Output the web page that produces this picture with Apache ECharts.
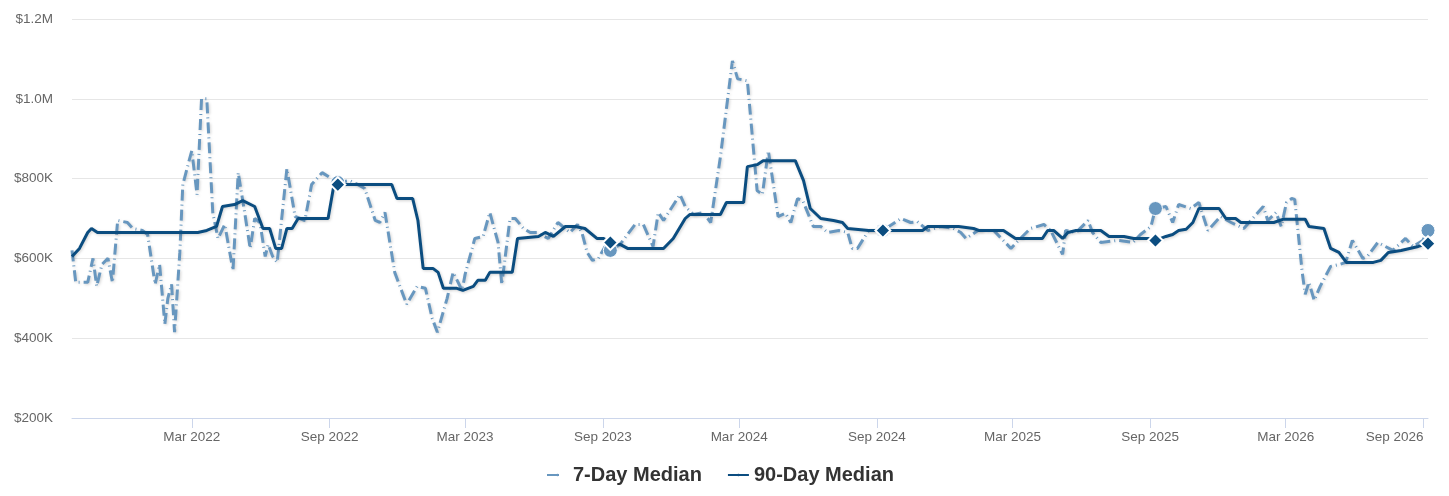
<!DOCTYPE html>
<html>
<head>
<meta charset="utf-8">
<title>Median Price</title>
<script src="https://cdn.jsdelivr.net/npm/echarts@6/dist/echarts.min.js"></script>
<style>
  html, body { margin: 0; padding: 0; background: #fff; }
  #chart { width: 1449px; height: 496px; }
</style>
</head>
<body>
<div id="chart"></div>
<script>
// 7-day median, values in $K
const sevenDayDates = [
  '2021-09-22', '2021-09-27', '2021-10-13', '2021-10-20', '2021-10-25', '2021-11-01', '2021-11-09', '2021-11-15',
  '2021-11-22', '2021-12-05', '2021-12-12', '2021-12-25', '2022-01-01', '2022-01-11', '2022-01-17', '2022-01-24',
  '2022-01-28', '2022-02-02', '2022-02-06', '2022-02-13', '2022-02-17', '2022-02-24', '2022-03-01', '2022-03-08',
  '2022-03-14', '2022-03-21', '2022-03-29', '2022-04-05', '2022-04-14', '2022-04-25', '2022-05-02', '2022-05-11',
  '2022-05-18', '2022-05-24', '2022-05-31', '2022-06-07', '2022-06-11', '2022-06-17', '2022-06-23', '2022-07-06',
  '2022-07-17', '2022-07-30', '2022-08-08', '2022-08-22', '2022-09-12', '2022-09-28', '2022-10-09', '2022-10-18',
  '2022-11-01', '2022-11-07', '2022-11-14', '2022-11-27', '2022-12-13', '2022-12-27', '2023-01-07', '2023-01-16',
  '2023-01-23', '2023-02-05', '2023-02-13', '2023-02-25', '2023-03-01', '2023-03-14', '2023-03-25', '2023-04-03',
  '2023-04-14', '2023-04-19', '2023-04-30', '2023-05-07', '2023-05-18', '2023-05-27', '2023-06-05', '2023-06-20',
  '2023-07-03', '2023-07-19', '2023-07-29', '2023-08-04', '2023-08-11', '2023-08-18', '2023-08-26', '2023-09-04',
  '2023-09-11', '2023-09-24', '2023-10-14', '2023-10-25', '2023-11-07', '2023-11-14', '2023-11-21', '2023-12-13',
  '2023-12-20', '2023-12-31', '2024-01-13', '2024-01-23', '2024-02-05', '2024-02-21', '2024-02-28', '2024-03-12',
  '2024-03-25', '2024-04-01', '2024-04-09', '2024-04-22', '2024-05-02', '2024-05-09', '2024-05-18', '2024-05-25',
  '2024-06-08', '2024-06-18', '2024-06-27', '2024-07-12', '2024-07-24', '2024-07-30', '2024-08-06', '2024-08-21',
  '2024-09-09', '2024-10-03', '2024-10-16', '2024-10-25', '2024-11-08', '2024-11-25', '2024-12-12', '2024-12-22',
  '2024-12-29', '2025-01-14', '2025-02-04', '2025-02-27', '2025-03-09', '2025-03-25', '2025-04-12', '2025-04-21',
  '2025-05-07', '2025-05-11', '2025-05-25', '2025-06-10', '2025-06-16', '2025-06-27', '2025-07-20', '2025-08-09',
  '2025-08-19', '2025-09-02', '2025-09-08', '2025-09-22', '2025-10-01', '2025-10-09', '2025-10-25', '2025-11-05',
  '2025-11-17', '2025-12-04', '2025-12-18', '2026-01-04', '2026-01-11', '2026-01-30', '2026-02-05', '2026-02-16',
  '2026-02-23', '2026-03-02', '2026-03-09', '2026-03-13', '2026-03-23', '2026-03-27', '2026-04-01', '2026-04-08',
  '2026-04-16', '2026-04-30', '2026-05-12', '2026-05-20', '2026-05-29', '2026-06-12', '2026-06-18', '2026-07-02',
  '2026-07-12', '2026-07-22', '2026-08-08', '2026-08-18', '2026-08-31', '2026-09-07'
]
const sevenDayValues = [
  620, 540, 540, 600, 530, 585, 600, 540,
  695, 690, 675, 670, 660, 535, 585, 435,
  500, 535, 415, 615, 785, 835, 870, 760,
  1000, 1000, 715, 650, 685, 570, 815, 710,
  625, 700, 690, 605, 635, 605, 590, 825,
  705, 695, 785, 815, 790, 795, 785, 775,
  695, 690, 715, 565, 485, 530, 525, 450,
  415, 500, 565, 520, 560, 650, 655, 715,
  640, 535, 700, 700, 675, 665, 665, 650,
  690, 665, 685, 665, 615, 595, 600, 630,
  620, 635, 685, 685, 630, 715, 695, 760,
  730, 710, 715, 690, 855, 1095, 1050, 1045,
  770, 760, 870, 705, 713, 690, 750, 745,
  680, 680, 665, 670, 665, 625, 625, 670,
  670, 700, 690, 692, 670, 680, 675, 665,
  650, 670, 670, 625, 645, 675, 685, 670,
  610, 670, 665, 695, 665, 640, 645, 640,
  660, 680, 725, 730, 690, 735, 725, 740,
  670, 705, 690, 675, 690, 730, 695, 715,
  680, 740, 750, 748, 565, 510, 540, 495,
  530, 580, 585, 590, 645, 600, 605, 640,
  630, 620, 650, 630, 645, 670
]

// 90-day median, values in $K
const ninetyDayDates = [
  '2021-09-22', '2021-10-02', '2021-10-13', '2021-10-18', '2021-10-26', '2022-03-09', '2022-03-21', '2022-04-03',
  '2022-04-11', '2022-04-27', '2022-05-08', '2022-05-24', '2022-06-04', '2022-06-13', '2022-06-21', '2022-06-29',
  '2022-07-06', '2022-07-13', '2022-07-21', '2022-08-30', '2022-09-06', '2022-09-12', '2022-11-23', '2022-11-30',
  '2022-12-21', '2022-12-28', '2023-01-04', '2023-01-17', '2023-01-24', '2023-01-31', '2023-02-18', '2023-02-26',
  '2023-03-12', '2023-03-18', '2023-03-28', '2023-04-03', '2023-05-03', '2023-05-10', '2023-06-07', '2023-06-16',
  '2023-06-27', '2023-07-13', '2023-07-26', '2023-08-08', '2023-08-24', '2023-09-02', '2023-09-11', '2023-09-24',
  '2023-10-04', '2023-11-21', '2023-12-04', '2023-12-20', '2023-12-26', '2024-02-05', '2024-02-13', '2024-03-07',
  '2024-03-12', '2024-03-25', '2024-04-02', '2024-05-15', '2024-05-26', '2024-06-04', '2024-06-18', '2024-07-05',
  '2024-07-17', '2024-07-24', '2024-08-21', '2024-09-09', '2024-11-01', '2024-11-08', '2024-12-19', '2025-01-08',
  '2025-01-15', '2025-02-17', '2025-03-05', '2025-04-10', '2025-04-17', '2025-04-25', '2025-05-07', '2025-05-14',
  '2025-05-25', '2025-06-27', '2025-07-08', '2025-07-28', '2025-08-10', '2025-08-29', '2025-09-08', '2025-09-22',
  '2025-10-01', '2025-10-09', '2025-10-19', '2025-10-28', '2025-11-05', '2025-12-02', '2025-12-11', '2025-12-24',
  '2025-12-31', '2026-02-13', '2026-02-25', '2026-03-27', '2026-04-01', '2026-04-21', '2026-04-30', '2026-05-11',
  '2026-05-21', '2026-06-26', '2026-07-06', '2026-07-16', '2026-08-02', '2026-08-25', '2026-09-07'
]
const ninetyDayValues = [
  605, 625, 665, 675, 665, 665, 670, 680,
  730, 735, 745, 730, 675, 675, 625, 625,
  675, 675, 700, 700, 775, 785, 785, 750,
  750, 695, 575, 575, 565, 525, 525, 520,
  530, 545, 545, 565, 565, 650, 655, 665,
  655, 680, 680, 675, 650, 650, 640, 635,
  625, 625, 650, 700, 710, 710, 740, 740,
  830, 835, 845, 845, 795, 725, 700, 695,
  690, 675, 670, 670, 670, 680, 680, 675,
  670, 670, 650, 650, 670, 670, 650, 665,
  670, 670, 655, 655, 650, 650, 645, 655,
  660, 670, 673, 690, 725, 725, 700, 700,
  690, 690, 698, 698, 680, 675, 625, 615,
  590, 590, 595, 615, 620, 630, 637
]

// year-over-year highlight points
const markerDates = ['2022-09-12', '2023-09-11', '2024-09-09', '2025-09-08', '2026-09-07']

const tickDates = [
  '2022-03-01', '2022-09-01', '2023-03-01', '2023-09-01', '2024-03-01',
  '2024-09-01', '2025-03-01', '2025-09-01', '2026-03-01', '2026-09-01'
]

const MONTHS = ['Jan', 'Feb', 'Mar', 'Apr', 'May', 'Jun', 'Jul', 'Aug', 'Sep', 'Oct', 'Nov', 'Dec']
const FONT = "'Liberation Sans', Arial, sans-serif"
const LIGHT = '#6897bf'
const DARK = '#0b4d80'

const tickValues = tickDates.map(d => Date.parse(d))

const buildData = (dates, values, marker) =>
  dates.map((d, i) => {
    const point = [Date.parse(d), values[i]]
    if (markerDates.indexOf(d) > -1) {
      return { value: point, symbol: marker.symbol, symbolSize: marker.size, itemStyle: marker.style }
    }
    return point
  })

const lineShadow = {
  shadowColor: 'rgba(0, 0, 0, 0.18)',
  shadowBlur: 3,
  shadowOffsetX: 1,
  shadowOffsetY: 1,
}

const option = {
  animation: false,
  textStyle: { fontFamily: FONT },
  grid: { left: 72, right: 21, top: 19, bottom: 78, outerBoundsMode: 'none' },
  legend: {
    top: 460,
    left: 541,
    itemWidth: 21,
    itemHeight: 3,
    itemGap: 25,
    textStyle: { fontFamily: FONT, fontSize: 20, fontWeight: 'bold', color: '#333333' },
    data: [
      // only one dash of the dashed style shows in the key
      { name: '7-Day Median', lineStyle: { type: [12, 20], shadowBlur: 0, shadowOffsetX: 0, shadowOffsetY: 0 } },
      { name: '90-Day Median', lineStyle: { shadowBlur: 0, shadowOffsetX: 0, shadowOffsetY: 0 } },
    ],
  },
  xAxis: {
    type: 'value',
    min: Date.parse(sevenDayDates[0]),
    max: Date.parse(sevenDayDates[sevenDayDates.length - 1]),
    axisLine: { onZero: false, lineStyle: { color: '#ccd6eb', width: 1 } },
    axisTick: {
      customValues: tickValues,
      length: 10,
      lineStyle: { color: '#ccd6eb' },
    },
    axisLabel: {
      customValues: tickValues,
      margin: 12,
      fontSize: 13.5,
      color: '#666666',
      fontFamily: FONT,
      alignMaxLabel: 'right',
      formatter: v => {
        const d = new Date(v)
        return MONTHS[d.getUTCMonth()] + ' ' + d.getUTCFullYear()
      },
    },
    splitLine: { show: false },
  },
  yAxis: {
    type: 'value',
    min: 200,
    max: 1200,
    interval: 200,
    axisLine: { show: false },
    axisTick: { show: false },
    axisLabel: {
      margin: 19,
      fontSize: 13.5,
      color: '#666666',
      fontFamily: FONT,
      formatter: v => (v >= 1000 ? '$' + (v / 1000).toFixed(1) + 'M' : '$' + v + 'K'),
    },
    splitLine: { lineStyle: { color: '#e6e6e6' } },
  },
  series: [
    {
      name: '7-Day Median',
      type: 'line',
      symbol: 'none',
      showAllSymbol: true,
      color: LIGHT,
      lineStyle: Object.assign({ color: LIGHT, width: 3, type: [11, 4, 1, 4] }, lineShadow),
      data: buildData(sevenDayDates, sevenDayValues, {
        symbol: 'circle',
        size: 14,
        style: { color: LIGHT, borderColor: '#ffffff', borderWidth: 1 },
      }),
      z: 2,
    },
    {
      name: '90-Day Median',
      type: 'line',
      symbol: 'none',
      showAllSymbol: true,
      color: DARK,
      lineStyle: Object.assign({ color: DARK, width: 3 }, lineShadow),
      data: buildData(ninetyDayDates, ninetyDayValues, {
        symbol: 'diamond',
        size: 15,
        style: { color: DARK, borderColor: '#ffffff', borderWidth: 2 },
      }),
      z: 3,
    },
  ],
}

const chart = echarts.init(document.getElementById('chart'))
chart.setOption(option)
</script>
</body>
</html>
